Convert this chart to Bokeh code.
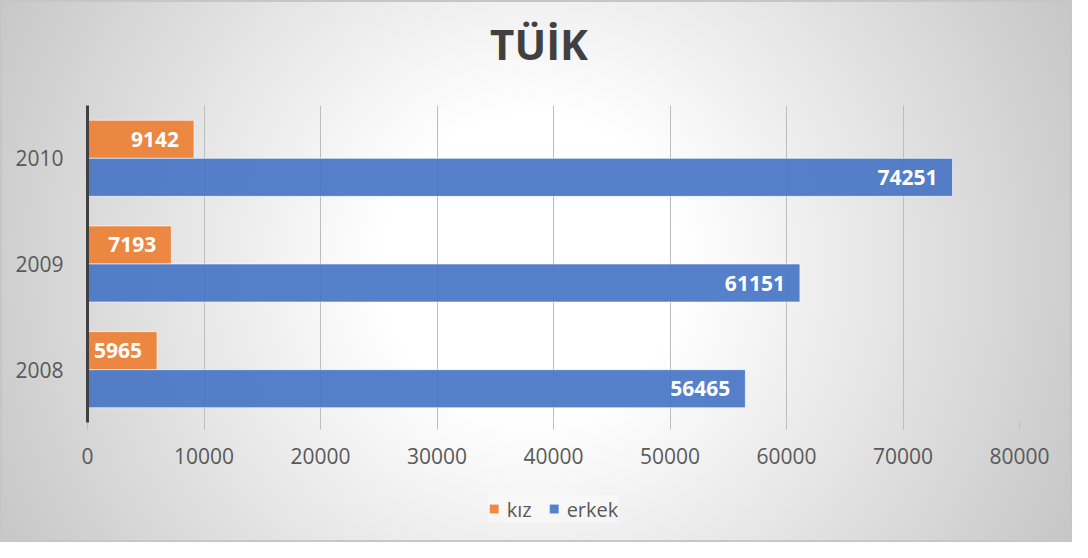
from bokeh.plotting import figure
from bokeh.models import (ColumnDataSource, FactorRange, Range1d, FixedTicker,
                          Legend, LegendItem, Div)
from bokeh.layouts import column
from bokeh.transform import dodge
from bokeh.core.properties import value
from bokeh.embed import file_html
from bokeh.resources import INLINE

# ---- data ----
years = ["2008", "2009", "2010"]
kiz = [5965, 7193, 9142]
erkek = [56465, 61151, 74251]
x_ticks = [0, 10000, 20000, 30000, 40000, 50000, 60000, 70000, 80000]
series_names = ["kız", "erkek"]
title_text = "TÜİK"

FONT = "Open Sans"
TXT = "#595959"
C_KIZ = "#ED7D31"
C_ERK = "#4472C4"

src = ColumnDataSource(dict(
    year=years, kiz=kiz, erkek=erkek,
    kiz_lbl=[str(v) for v in kiz], erkek_lbl=[str(v) for v in erkek],
))

W = 1072
H_TITLE = 105
H_MAIN = 370
H_LEG = 67

# ---- title ----
title = Div(
    text=("<div style=\"box-sizing:border-box;width:%dpx;padding-left:6px;"
          "padding-top:23px;margin:0;text-align:center;font-family:'Open Sans';"
          "font-weight:bold;font-size:42px;line-height:42px;color:#404040\">%s</div>")
         % (W, title_text),
    width=W, height=H_TITLE, margin=0)

# ---- main chart ----
p = figure(width=W, height=H_MAIN, output_backend="svg", toolbar_location=None,
           y_range=FactorRange(factors=years, range_padding=0),
           x_range=Range1d(0, 80000),
           min_border_left=87, min_border_right=53, min_border_top=0,
           min_border_bottom=53)
p.background_fill_color = None
p.border_fill_color = None
p.outline_line_color = None

bar_style = dict(height=0.36, fill_alpha=0.9, line_color="white",
                 line_alpha=0.6, line_width=1)
r_kiz = p.hbar(y=dodge("year", 0.18, range=p.y_range), right="kiz", left=0,
               source=src, fill_color=C_KIZ, **bar_style)
r_erk = p.hbar(y=dodge("year", -0.18, range=p.y_range), right="erkek", left=0,
               source=src, fill_color=C_ERK, **bar_style)

for col, off in (("kiz", 0.18), ("erkek", -0.18)):
    p.text(x=col, y=dodge("year", off, range=p.y_range), text=col + "_lbl",
           source=src, text_align="right", text_baseline="middle",
           x_offset=-15, text_color="white", text_font=value(FONT),
           text_font_size="21px", text_font_style="bold")

# grids
p.ygrid.grid_line_color = None
p.xgrid.grid_line_color = "#bdbdbd"
p.xgrid.grid_line_width = 1
p.xgrid.ticker = FixedTicker(ticks=x_ticks)

# x axis
xa = p.xaxis[0]
xa.ticker = FixedTicker(ticks=x_ticks)
xa.axis_line_color = None
xa.major_tick_line_color = "#bdbdbd"
xa.major_tick_out = 7
xa.major_tick_in = 0
xa.minor_tick_line_color = None
xa.major_label_text_font = FONT
xa.major_label_text_font_size = "21px"
xa.major_label_text_color = TXT
xa.major_label_standoff = 18

# y axis
ya = p.yaxis[0]
ya.axis_line_color = "#404040"
ya.axis_line_width = 3
ya.major_tick_line_color = None
ya.minor_tick_line_color = None
ya.major_label_text_font = FONT
ya.major_label_text_font_size = "21px"
ya.major_label_text_color = TXT
ya.major_label_standoff = 18

# ---- legend strip (separate figure; same series & styles, bars kept off-range) ----
pl = figure(width=W, height=H_LEG, output_backend="svg", toolbar_location=None,
            x_axis_location=None, y_axis_location=None,
            min_border=0, min_border_right=16,
            x_range=Range1d(-2, -1), y_range=Range1d(0, 1))
pl.background_fill_color = None
pl.border_fill_color = None
pl.outline_line_color = None
pl.xgrid.visible = False
pl.ygrid.visible = False
lk = pl.hbar(y=0.5, right="kiz", left=0, source=src, fill_color=C_KIZ, **bar_style)
le = pl.hbar(y=0.5, right="erkek", left=0, source=src, fill_color=C_ERK, **bar_style)

legend = Legend(items=[LegendItem(label=series_names[0], renderers=[lk]),
                       LegendItem(label=series_names[1], renderers=[le])],
                orientation="horizontal", location="center")
legend.label_text_font = FONT
legend.label_text_font_size = "20px"
legend.label_text_color = TXT
legend.glyph_width = 12
legend.glyph_height = 12
legend.label_standoff = 7
legend.spacing = 16
legend.padding = 10
legend.margin = 0
legend.background_fill_color = "white"
legend.background_fill_alpha = 0.35
legend.border_line_color = None
pl.add_layout(legend)

layout = column(title, p, pl, spacing=0)
layout.styles = {
    "background": "radial-gradient(circle 620px at 532px 267px, #ffffff 150px, #c4c4c4 620px)",
    "box-shadow": "inset 0 0 0 2px #c6c6c6",
}

open("out.html", "w").write(file_html(layout, INLINE))
